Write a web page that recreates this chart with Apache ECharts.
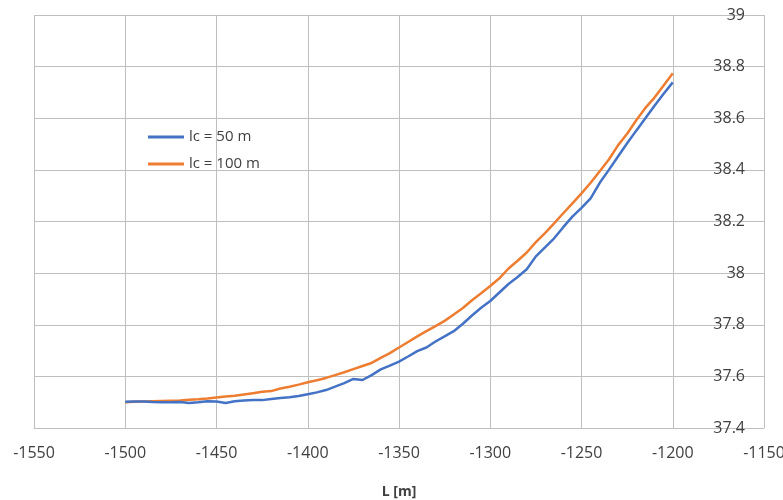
<!DOCTYPE html>
<html>
<head>
<meta charset="utf-8">
<script src="https://cdn.jsdelivr.net/npm/echarts@6/dist/echarts.min.js"></script>
<style>
  html, body { margin: 0; padding: 0; background: #fff; }
  #chart { width: 783px; height: 500px; }
</style>
</head>
<body>
<div id="chart"></div>
<script>
// Distance L [m] along the section
const lengths = [
  -1500, -1495, -1490, -1485, -1480, -1475, -1470, -1465, -1460, -1455,
  -1450, -1445, -1440, -1435, -1430, -1425, -1420, -1415, -1410, -1405,
  -1400, -1395, -1390, -1385, -1380, -1375, -1370, -1365, -1360, -1355,
  -1350, -1345, -1340, -1335, -1330, -1325, -1320, -1315, -1310, -1305,
  -1300, -1295, -1290, -1285, -1280, -1275, -1270, -1265, -1260, -1255,
  -1250, -1245, -1240, -1235, -1230, -1225, -1220, -1215, -1210, -1205,
  -1200
];

// lc = 50 m
const lc50 = [
  37.502, 37.503, 37.503, 37.501, 37.500, 37.500, 37.501, 37.497, 37.500, 37.504,
  37.503, 37.497, 37.504, 37.507, 37.508, 37.508, 37.512, 37.516, 37.519, 37.524,
  37.531, 37.538, 37.547, 37.560, 37.574, 37.590, 37.586, 37.605, 37.627, 37.642,
  37.657, 37.677, 37.698, 37.712, 37.735, 37.755, 37.775, 37.804, 37.836, 37.866,
  37.892, 37.925, 37.958, 37.985, 38.015, 38.065, 38.100, 38.135, 38.178, 38.219,
  38.253, 38.290, 38.350, 38.400, 38.452, 38.503, 38.552, 38.600, 38.648, 38.695,
  38.739
];

// lc = 100 m
const lc100 = [
  37.500, 37.502, 37.503, 37.504, 37.505, 37.506, 37.507, 37.509, 37.511, 37.514,
  37.518, 37.522, 37.525, 37.530, 37.535, 37.540, 37.543, 37.553, 37.560, 37.568,
  37.577, 37.585, 37.594, 37.605, 37.616, 37.628, 37.640, 37.652, 37.672, 37.690,
  37.712, 37.733, 37.755, 37.775, 37.795, 37.815, 37.840, 37.865, 37.895, 37.922,
  37.950, 37.980, 38.018, 38.048, 38.080, 38.120, 38.155, 38.193, 38.232, 38.270,
  38.309, 38.350, 38.395, 38.440, 38.495, 38.540, 38.592, 38.640, 38.680, 38.727,
  38.774
];

const seriesNames = ['lc = 50 m', 'lc = 100 m'];
const seriesColors = ['#4472C4', '#ED7D31'];

const FONT = '"Open Sans", "Noto Sans", sans-serif';
const GRID_COLOR = '#BFBFBF';
const TEXT_COLOR = '#404040';

const pair = (xs, ys) => xs.map((x, i) => [x, ys[i]]);

const chart = echarts.init(document.getElementById('chart'), null, { renderer: 'canvas' });

chart.setOption({
  animation: false,
  backgroundColor: '#fff',
  textStyle: { fontFamily: FONT },
  grid: {
    left: 34, right: 19, top: 15, bottom: 72,
    containLabel: false,
    outerBoundsMode: 'none'
  },
  legend: {
    orient: 'vertical',
    left: 143,
    top: 124,
    icon: 'rect',
    itemWidth: 36,
    itemHeight: 3,
    itemGap: 11,
    data: seriesNames,
    textStyle: {
      fontFamily: FONT,
      fontSize: 15,
      lineHeight: 16,
      color: TEXT_COLOR
    }
  },
  xAxis: {
    type: 'value',
    min: -1550,
    max: -1150,
    interval: 50,
    name: 'L [m]',
    nameLocation: 'middle',
    nameGap: 57,
    nameTextStyle: { fontFamily: FONT, fontSize: 14, fontWeight: 'bold', color: TEXT_COLOR },
    axisLine: { show: true, lineStyle: { color: GRID_COLOR, width: 1 } },
    axisTick: { show: false },
    axisLabel: {
      fontFamily: FONT,
      fontSize: 16,
      color: TEXT_COLOR,
      margin: 17,
      formatter: v => String(Math.round(v))
    },
    splitLine: { show: true, lineStyle: { color: GRID_COLOR, width: 1 } }
  },
  yAxis: {
    type: 'value',
    position: 'right',
    min: 37.4,
    max: 39,
    interval: 0.2,
    name: "φ' [°]",
    nameLocation: 'middle',
    nameRotate: -90,
    nameGap: 21,
    nameTextStyle: { fontFamily: FONT, fontSize: 14, fontWeight: 'bold', color: TEXT_COLOR },
    axisLine: { show: false },
    axisTick: { show: false },
    axisLabel: {
      inside: true,
      margin: 19,
      fontFamily: FONT,
      fontSize: 16,
      color: TEXT_COLOR,
      formatter: v => String(parseFloat(v.toFixed(1)))
    },
    splitLine: { show: true, lineStyle: { color: GRID_COLOR, width: 1 } }
  },
  series: [
    {
      name: seriesNames[0],
      type: 'line',
      data: pair(lengths, lc50),
      showSymbol: false,
      symbol: 'none',
      color: seriesColors[0],
      lineStyle: { color: seriesColors[0], width: 2.5 },
      z: 3
    },
    {
      name: seriesNames[1],
      type: 'line',
      data: pair(lengths, lc100),
      showSymbol: false,
      symbol: 'none',
      color: seriesColors[1],
      lineStyle: { color: seriesColors[1], width: 2.5 },
      z: 2
    }
  ]
});
</script>
</body>
</html>
